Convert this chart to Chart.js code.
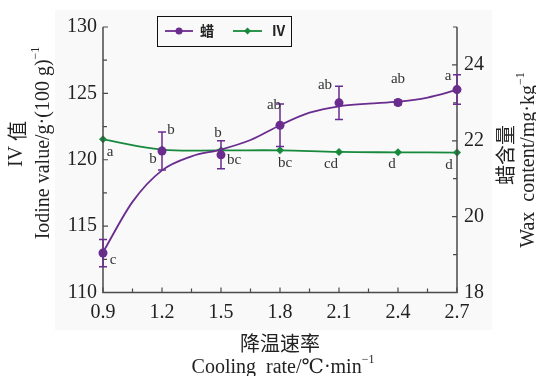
<!DOCTYPE html>
<html>
<head>
<meta charset="utf-8">
<script src="https://cdn.jsdelivr.net/npm/chart.js@4.4.1/dist/chart.umd.min.js"></script>
<style>
  html, body { margin: 0; padding: 0; background: #ffffff; }
  #wrap { width: 536px; height: 376px; position: relative; }
</style>
</head>
<body>
<div id="wrap"><canvas id="c" width="536" height="376"></canvas></div>
<script>
// Cooling rate (℃/min)
const coolingRates = [0.9, 1.2, 1.5, 1.8, 2.1, 2.4, 2.7];

// Wax content (mg/kg): means, standard deviations, significance letters
const waxMeans   = [19.04, 21.73, 21.63, 22.41, 23.00, 23.01, 23.35];
const waxErrors  = [0.36, 0.50, 0.37, 0.56, 0.44, 0.06, 0.39];
const waxLetters = ['c', 'b', 'b', 'ab', 'ab', 'ab', 'a'];

// Smoothed trend line of wax content
const waxFitRates  = [0.9, 1.05, 1.2, 1.35, 1.5, 1.65, 1.8, 1.95, 2.1, 2.25, 2.4, 2.55, 2.7];
const waxFitValues = [19.06, 20.39, 21.22, 21.59, 21.77, 22.02, 22.41, 22.74, 22.91, 22.98, 23.03, 23.14, 23.34];

// Iodine value (g/100 g) and significance letters
const ivValues  = [121.54, 120.77, 120.71, 120.71, 120.59, 120.56, 120.54];
const ivLetters = ['a', 'b', 'bc', 'bc', 'cd', 'd', 'd'];

// Axis ticks
const xTicks        = [0.9, 1.2, 1.5, 1.8, 2.1, 2.4, 2.7];
const xMinorTicks   = [1.05, 1.35, 1.65, 1.95, 2.25, 2.55];
const ivTicks       = [110, 115, 120, 125, 130];
const ivMinorTicks  = [112.5, 117.5, 122.5, 127.5];
const waxTicks      = [18, 20, 22, 24];
const waxMinorTicks = [19, 21, 23, 25];

// Label placement around the markers (pixels)
const waxLetterOffsets = [[10, 7], [9, -21], [-3, -22], [-6, -20], [-14, -18], [0, -23], [-9, -14]];
const ivLetterOffsets  = [[7, 13], [-9, 10], [13, 10], [5, 13], [-8, 12], [-6, 12], [-8, 12]];

const PURPLE = '#6a2c8f';
const GREEN = '#17893c';
const AXIS = '#4a4a4a';
const TEXT = '#222222';
const SERIF = '"Liberation Serif", "DejaVu Serif", serif';
const CJK = '"Noto Sans CJK SC", "Noto Sans", sans-serif';

// Light panel behind the figure
const panelPlugin = {
  id: 'panel',
  beforeDraw(chart) {
    const ctx = chart.ctx;
    ctx.save();
    ctx.fillStyle = '#ffffff';
    ctx.fillRect(0, 0, chart.width, chart.height);
    ctx.fillStyle = '#f9f9f9';
    ctx.fillRect(55, 10, 437, 320);
    ctx.restore();
  }
};

// Axis lines with inward ticks
const axisPlugin = {
  id: 'axisFrame',
  afterDatasetsDraw(chart) {
    const { ctx, chartArea: a, scales } = chart;
    ctx.save();
    ctx.strokeStyle = AXIS;
    ctx.lineWidth = 1.5;
    ctx.beginPath();
    ctx.moveTo(a.left, a.top);
    ctx.lineTo(a.left, a.bottom);
    ctx.lineTo(a.right, a.bottom);
    ctx.lineTo(a.right, a.top);
    ctx.stroke();
    ctx.lineWidth = 1.2;
    ctx.beginPath();
    const seg = (x1, y1, x2, y2) => { ctx.moveTo(x1, y1); ctx.lineTo(x2, y2); };
    ivTicks.forEach(v => { const y = scales.y.getPixelForValue(v); seg(a.left, y, a.left + 5, y); });
    ivMinorTicks.forEach(v => { const y = scales.y.getPixelForValue(v); seg(a.left, y, a.left + 4, y); });
    waxTicks.forEach(v => { const y = scales.y1.getPixelForValue(v); seg(a.right, y, a.right - 5, y); });
    waxMinorTicks.forEach(v => { const y = scales.y1.getPixelForValue(v); seg(a.right, y, a.right - 4, y); });
    xTicks.forEach(v => { const x = scales.x.getPixelForValue(v); seg(x, a.bottom, x, a.bottom - 5); });
    xMinorTicks.forEach(v => { const x = scales.x.getPixelForValue(v); seg(x, a.bottom, x, a.bottom - 4); });
    ctx.stroke();
    ctx.restore();
  }
};

// Error bars on wax content and significance letters for both series
const annotatePlugin = {
  id: 'annotate',
  afterDatasetsDraw(chart) {
    const { ctx, scales } = chart;
    ctx.save();
    ctx.strokeStyle = PURPLE;
    ctx.lineWidth = 1.5;
    ctx.beginPath();
    coolingRates.forEach((r, i) => {
      const x = scales.x.getPixelForValue(r);
      const yTop = scales.y1.getPixelForValue(waxMeans[i] + waxErrors[i]);
      const yBot = scales.y1.getPixelForValue(waxMeans[i] - waxErrors[i]);
      ctx.moveTo(x, yTop); ctx.lineTo(x, yBot);
      ctx.moveTo(x - 4, yTop); ctx.lineTo(x + 4, yTop);
      ctx.moveTo(x - 4, yBot); ctx.lineTo(x + 4, yBot);
    });
    ctx.stroke();

    ctx.fillStyle = '#333333';
    ctx.font = '15px ' + SERIF;
    ctx.textAlign = 'center';
    ctx.textBaseline = 'middle';
    coolingRates.forEach((r, i) => {
      const x = scales.x.getPixelForValue(r);
      const yw = scales.y1.getPixelForValue(waxMeans[i]);
      ctx.fillText(waxLetters[i], x + waxLetterOffsets[i][0], yw + waxLetterOffsets[i][1]);
      const yi = scales.y.getPixelForValue(ivValues[i]);
      ctx.fillText(ivLetters[i], x + ivLetterOffsets[i][0], yi + ivLetterOffsets[i][1]);
    });
    ctx.restore();
  }
};

// Draws a run of text pieces (main text + superscript) centred on (cx, cy)
function drawRich(ctx, parts, cx, cy) {
  let total = 0;
  parts.forEach(p => { ctx.font = p.font; p.w = ctx.measureText(p.text).width; total += p.w; });
  let x = cx - total / 2;
  ctx.textAlign = 'left';
  ctx.textBaseline = 'middle';
  parts.forEach(p => { ctx.font = p.font; ctx.fillText(p.text, x, cy + (p.dy || 0)); x += p.w; });
}

// Axis titles and legend
const titlePlugin = {
  id: 'titles',
  afterDraw(chart) {
    const ctx = chart.ctx;
    const main = '20px ' + SERIF;
    const sup = '12px ' + SERIF;
    const cjk = '20px ' + CJK;
    ctx.save();
    ctx.fillStyle = TEXT;

    // left axis
    ctx.save();
    ctx.translate(17, 144);
    ctx.rotate(-Math.PI / 2);
    drawRich(ctx, [{ text: 'IV ', font: main }, { text: '值', font: cjk }], 0, 0);
    ctx.restore();
    ctx.save();
    ctx.translate(44, 143);
    ctx.rotate(-Math.PI / 2);
    drawRich(ctx, [{ text: 'Iodine value/g·(100 g)', font: main }, { text: '−1', font: sup, dy: -8 }], 0, 0);
    ctx.restore();

    // right axis
    ctx.save();
    ctx.translate(505, 155);
    ctx.rotate(-Math.PI / 2);
    drawRich(ctx, [{ text: '蜡含量', font: cjk }], 0, 0);
    ctx.restore();
    ctx.save();
    ctx.translate(529, 160);
    ctx.rotate(-Math.PI / 2);
    drawRich(ctx, [{ text: 'Wax  content/mg·kg', font: main }, { text: '−1', font: sup, dy: -8 }], 0, 0);
    ctx.restore();

    // bottom axis
    drawRich(ctx, [{ text: '降温速率', font: cjk }], 280, 343);
    drawRich(ctx, [{ text: 'Cooling  rate/℃·min', font: main }, { text: '−1', font: sup, dy: -8 }], 283, 368);

    // legend
    ctx.strokeStyle = '#111111';
    ctx.lineWidth = 1;
    ctx.strokeRect(157.5, 16.5, 134, 30);
    const ly = 31;
    ctx.lineWidth = 1.8;
    ctx.strokeStyle = PURPLE;
    ctx.beginPath(); ctx.moveTo(165, ly); ctx.lineTo(193, ly); ctx.stroke();
    ctx.fillStyle = PURPLE;
    ctx.beginPath(); ctx.arc(179, ly, 3.5, 0, Math.PI * 2); ctx.fill();
    ctx.strokeStyle = GREEN;
    ctx.beginPath(); ctx.moveTo(233, ly); ctx.lineTo(262, ly); ctx.stroke();
    ctx.fillStyle = GREEN;
    ctx.beginPath();
    ctx.moveTo(247.5, ly - 3.5); ctx.lineTo(251, ly); ctx.lineTo(247.5, ly + 3.5); ctx.lineTo(244, ly);
    ctx.closePath(); ctx.fill();
    ctx.fillStyle = TEXT;
    ctx.font = 'bold 14px ' + CJK;
    ctx.textAlign = 'left';
    ctx.textBaseline = 'middle';
    ctx.fillText('蜡', 200, ly);
    ctx.fillText('IV', 272, ly);
    ctx.restore();
  }
};

const tickFont = { family: SERIF, size: 20 };

new Chart(document.getElementById('c'), {
  data: {
    datasets: [
      {
        type: 'line',
        label: 'IV',
        data: coolingRates.map((r, i) => ({ x: r, y: ivValues[i] })),
        yAxisID: 'y',
        borderColor: GREEN,
        backgroundColor: GREEN,
        borderWidth: 1.8,
        pointStyle: 'rectRot',
        pointRadius: 4,
        pointBorderWidth: 0,
        tension: 0.4,
        clip: false,
        order: 3
      },
      {
        type: 'line',
        label: '蜡 trend',
        data: waxFitRates.map((r, i) => ({ x: r, y: waxFitValues[i] })),
        yAxisID: 'y1',
        borderColor: PURPLE,
        borderWidth: 1.8,
        pointRadius: 0,
        cubicInterpolationMode: 'monotone',
        clip: false,
        order: 2
      },
      {
        type: 'scatter',
        label: '蜡',
        data: coolingRates.map((r, i) => ({ x: r, y: waxMeans[i] })),
        yAxisID: 'y1',
        backgroundColor: PURPLE,
        borderColor: PURPLE,
        pointRadius: 4.5,
        pointBorderWidth: 0,
        clip: false,
        order: 1
      }
    ]
  },
  options: {
    responsive: false,
    devicePixelRatio: 1,
    animation: false,
    events: [],
    layout: { padding: { top: 27, left: 0, right: 0, bottom: 0 } },
    plugins: { legend: { display: false }, tooltip: { enabled: false } },
    scales: {
      x: {
        type: 'linear',
        min: 0.9,
        max: 2.7,
        grid: { display: false, drawTicks: false },
        border: { display: false },
        afterBuildTicks: s => { s.ticks = xTicks.map(v => ({ value: v })); },
        afterFit: s => { s.height = 83.5; },
        ticks: {
          font: tickFont, color: TEXT, padding: 8,
          autoSkip: false, maxRotation: 0,
          callback: v => Number(v).toFixed(1)
        }
      },
      y: {
        type: 'linear',
        position: 'left',
        min: 110,
        max: 130,
        grid: { display: false, drawTicks: false },
        border: { display: false },
        afterBuildTicks: s => { s.ticks = ivTicks.map(v => ({ value: v })); },
        afterFit: s => { s.width = 103; },
        ticks: { font: tickFont, color: TEXT, padding: 6 }
      },
      y1: {
        type: 'linear',
        position: 'right',
        min: 18,
        max: 25,
        grid: { display: false, drawTicks: false },
        border: { display: false },
        afterBuildTicks: s => { s.ticks = waxTicks.map(v => ({ value: v })); },
        afterFit: s => { s.width = 79; },
        ticks: { font: tickFont, color: TEXT, padding: 7 }
      }
    }
  },
  plugins: [panelPlugin, axisPlugin, annotatePlugin, titlePlugin]
});
</script>
</body>
</html>
